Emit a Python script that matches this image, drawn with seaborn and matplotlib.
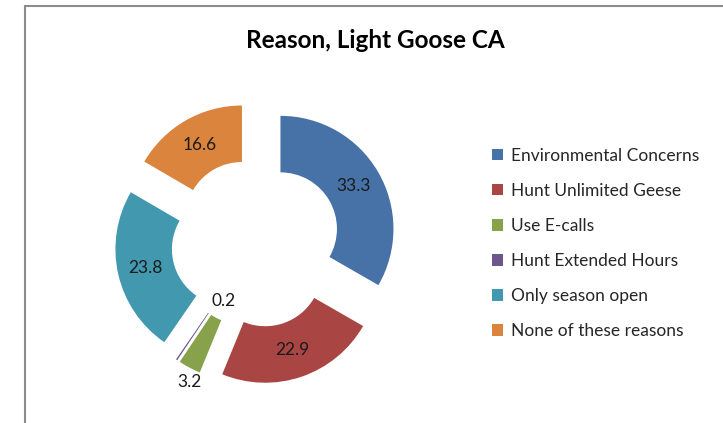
import matplotlib
matplotlib.use("Agg")
import matplotlib.pyplot as plt
import seaborn as sns
import numpy as np
from matplotlib.lines import Line2D

reasons = ["Environmental Concerns", "Hunt Unlimited Geese", "Use E-calls",
           "Hunt Extended Hours", "Only season open", "None of these reasons"]
shares = [33.3, 22.9, 3.2, 0.2, 23.8, 16.6]
colors = ["#4672A8", "#A94644", "#87A24A", "#6E548D", "#4198AF", "#DB843D"]

sns.set_theme(style="white")
plt.rcParams['font.family'] = ['Lato', 'DejaVu Sans']

fig = plt.figure(figsize=(7.23, 4.23), dpi=100)
W, H = 723, 423

# pie axes: center at (256, 243) px from top-left, radius 113 px
R = 113
cx, cy = 256, 243
half = 1.5 * R
ax = fig.add_axes([(cx - half) / W, (H - cy - half) / H, 2 * half / W, 2 * half / H])

wedges, _ = ax.pie(shares, colors=sns.color_palette(colors), startangle=90,
                   counterclock=False, explode=[0.25] * len(shares),
                   wedgeprops=dict(width=0.5, linewidth=0), radius=1.0)
ax.set_xlim(-1.5, 1.5)
ax.set_ylim(-1.5, 1.5)
ax.axis("off")

# data labels in the middle of each ring segment (small ones moved out by hand)
for i, w in enumerate(wedges):
    mid = np.deg2rad((w.theta1 + w.theta2) / 2)
    x0, y0 = w.center
    if reasons[i] == "Use E-calls":
        px, py = x0 + 1.2 * np.cos(mid) + 0.09, y0 + 1.2 * np.sin(mid) + 0.05
    elif reasons[i] == "Hunt Extended Hours":
        px, py = x0 + 0.5 * np.cos(mid) + 0.135, y0 + 0.5 * np.sin(mid) + 0.11
    else:
        px, py = x0 + 0.75 * np.cos(mid), y0 + 0.75 * np.sin(mid)
    ax.text(px, py, f"{shares[i]:.1f}", ha="center", va="center",
            fontsize=12.5, color="#1a1a1a")

fig.text(375 / W, 1 - 40 / H, "Reason, Light Goose CA", ha="center", va="center",
         fontsize=17.5, fontweight="bold", color="black")

fig.legend(wedges, reasons, loc="upper left", bbox_to_anchor=(483 / W, 1 - 139 / H),
           frameon=False, fontsize=12.5, handlelength=0.65, handleheight=0.65,
           handletextpad=0.45, labelspacing=1.1, borderpad=0)

# chart frame (left and top edges only visible)
fig.add_artist(Line2D([24.5 / W, 24.5 / W], [0, 1 - 6 / H], transform=fig.transFigure,
                      color="#8c8c8c", lw=1.5))
fig.add_artist(Line2D([24.5 / W, 1], [1 - 6 / H, 1 - 6 / H], transform=fig.transFigure,
                      color="#8c8c8c", lw=1.5))

fig.savefig("out.png", dpi=100)
